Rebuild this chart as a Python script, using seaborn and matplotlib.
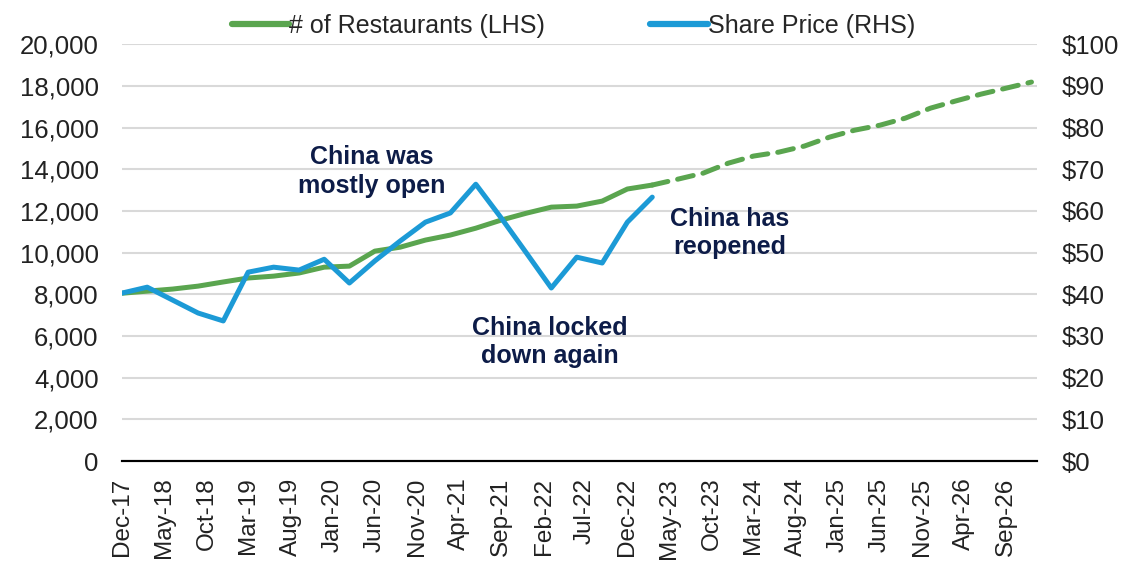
import pandas as pd
import seaborn as sns
import matplotlib
import matplotlib.pyplot as plt
import matplotlib.dates as mdates
from matplotlib.lines import Line2D
from matplotlib.ticker import FuncFormatter

matplotlib.use("Agg")

# --- data (quarterly) ---
restaurants_actual = [8050, 8150, 8250, 8390, 8590, 8780, 8870, 9020, 9300, 9350,
                      10070, 10260, 10600, 10840, 11170, 11560, 11890, 12180, 12230,
                      12470, 13050, 13240]
restaurants_forecast = [13240, 13520, 13810, 14290, 14630, 14820, 15110, 15540, 15870,
                        16110, 16450, 16930, 17270, 17600, 17890, 18180]
share_price = [40.3, 41.7, 38.6, 35.5, 33.6, 45.3, 46.5, 45.8, 48.4, 42.7, 48.0, 52.8,
               57.3, 59.5, 66.4, 58.3, 49.9, 41.5, 48.9, 47.5, 57.3, 63.3]

actual_dates = pd.date_range("2017-12-01", periods=len(restaurants_actual), freq="3MS")
forecast_dates = pd.date_range("2023-03-01", periods=len(restaurants_forecast), freq="3MS")
tick_dates = pd.date_range("2017-12-01", "2026-09-01", freq="5MS")

GREEN = "#5aa54f"
BLUE = "#1c9ad6"
NAVY = "#0d1c48"

df_actual = pd.DataFrame({"Date": actual_dates, "Restaurants": restaurants_actual,
                          "Price": share_price})
df_fc = pd.DataFrame({"Date": forecast_dates, "Restaurants": restaurants_forecast})

sns.set_theme(style="white")
plt.rcParams["font.family"] = ["Liberation Sans", "DejaVu Sans"]

fig, ax = plt.subplots(figsize=(11.22, 5.66), dpi=100)
fig.subplots_adjust(left=0.109, right=0.924, top=0.922, bottom=0.1855)
ax2 = ax.twinx()

sns.lineplot(data=df_actual, x="Date", y="Restaurants", ax=ax, color=GREEN,
             linewidth=3.6, solid_capstyle="round", zorder=3)
sns.lineplot(data=df_fc, x="Date", y="Restaurants", ax=ax, color=GREEN,
             linewidth=3.6, linestyle=(0, (3.2, 2.0)), dash_capstyle="round", zorder=3)
sns.lineplot(data=df_actual, x="Date", y="Price", ax=ax2, color=BLUE,
             linewidth=3.6, solid_capstyle="round", zorder=4)

ax.set_ylim(0, 20000)
ax2.set_ylim(0, 100)
ax.set_yticks(range(0, 20001, 2000))
ax2.set_yticks(range(0, 101, 10))
ax.yaxis.set_major_formatter(FuncFormatter(lambda v, p: f"{int(v):,}"))
ax2.yaxis.set_major_formatter(FuncFormatter(lambda v, p: f"${int(v)}"))

ax.set_xlim(pd.Timestamp("2017-12-01"), pd.Timestamp("2026-12-20"))
ax.set_xticks(tick_dates)
ax.xaxis.set_major_formatter(mdates.DateFormatter("%b-%y"))
for lbl in ax.get_xticklabels():
    lbl.set_rotation(90)

ax.grid(axis="y", color="#d9d9d9", linewidth=1.5)
ax.set_axisbelow(True)
for a in (ax, ax2):
    for s in ["top", "left", "right"]:
        a.spines[s].set_visible(False)
    a.spines["bottom"].set_color("black")
    a.spines["bottom"].set_linewidth(1.5)
    a.set_xlabel("")
    a.set_ylabel("")
ax.tick_params(axis="y", labelsize=18.5, length=0, pad=17, colors="#222222")
ax2.tick_params(axis="y", labelsize=18.5, length=0, pad=18, colors="#222222")
ax.tick_params(axis="x", labelsize=17.5, length=0, pad=12, colors="#222222")

# annotations
ann = dict(ha="center", va="center", fontsize=18, fontweight="bold", color=NAVY,
           linespacing=1.25, zorder=6)
ax.text(pd.Timestamp("2020-05-20"), 13900, "China was\nmostly open", **ann)
ax.text(pd.Timestamp("2022-02-25"), 5710, "China locked\ndown again", **ann)
ax.text(pd.Timestamp("2023-12-05"), 10935, "China has\nreopened", **ann)

handles = [Line2D([0], [0], color=GREEN, lw=4.5, solid_capstyle="round"),
           Line2D([0], [0], color=BLUE, lw=4.5, solid_capstyle="round")]
fig.legend(handles, ["# of Restaurants (LHS)", "Share Price (RHS)"],
           loc="upper center", bbox_to_anchor=(0.511, 1.015), ncol=2, frameon=False,
           fontsize=18, handlelength=2.3, handletextpad=0.0, columnspacing=4.2)

plt.savefig("out.png", dpi=100)
plt.close()
